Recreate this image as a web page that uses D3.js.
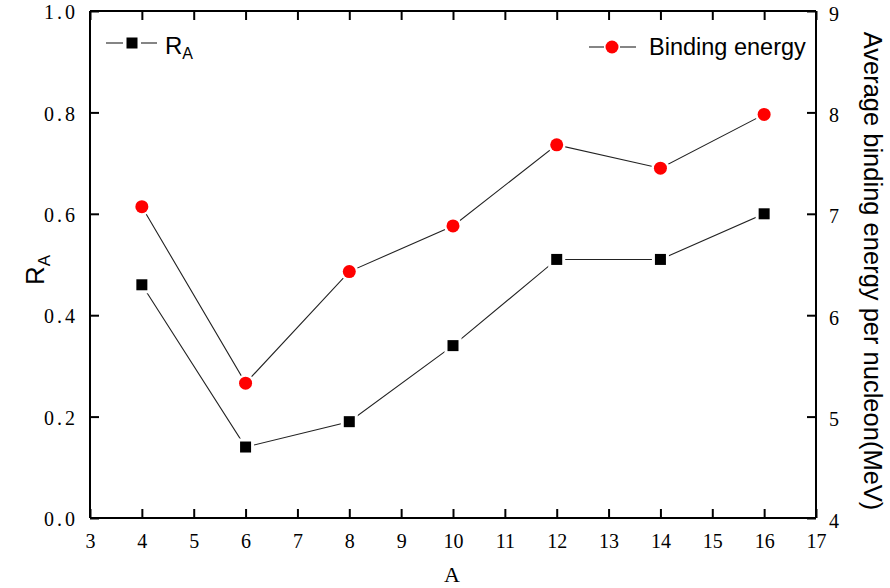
<!DOCTYPE html>
<html><head><meta charset="utf-8">
<script src="https://cdn.jsdelivr.net/npm/d3@7"></script>
<style>body{margin:0;background:#fff}svg{display:block}</style>
</head><body>
<script>
const massNumbers = [4, 6, 8, 10, 12, 14, 16];
const ratioRA = [0.46, 0.14, 0.19, 0.34, 0.51, 0.51, 0.60];
const bindingEnergy = [7.07, 5.33, 6.43, 6.88, 7.68, 7.45, 7.98];
const xTicks = d3.range(3, 18);
const leftTicks = [0, 0.2, 0.4, 0.6, 0.8, 1.0];
const rightTicks = [4, 5, 6, 7, 8, 9];

const W = 890, H = 588;
const L = 90, R = 816, T = 11, B = 518;
const svg = d3.select("body").append("svg").attr("width", W).attr("height", H);

const x = d3.scaleLinear().domain([3, 17]).range([L, R]);
const yL = d3.scaleLinear().domain([0, 1]).range([B, T]);
const yR = d3.scaleLinear().domain([4, 9]).range([B, T]);

const serif = "'Liberation Serif', 'DejaVu Serif', serif";
const sans = "'Liberation Sans', Arial, sans-serif";

const tl = 9;
const axB = svg.append("g").attr("transform", `translate(0,${B})`)
  .call(d3.axisBottom(x).tickValues(xTicks).tickSize(-tl).tickPadding(tl + 9).tickFormat(d3.format("d")));
const axT = svg.append("g").attr("transform", `translate(0,${T})`)
  .call(d3.axisTop(x).tickValues(xTicks).tickSize(-tl).tickFormat(""));
const axL = svg.append("g").attr("transform", `translate(${L},0)`)
  .call(d3.axisLeft(yL).tickValues(leftTicks).tickSize(-tl).tickPadding(tl + 3).tickFormat(d3.format(".1f")));
const axR = svg.append("g").attr("transform", `translate(${R},0)`)
  .call(d3.axisRight(yR).tickValues(rightTicks).tickSize(-tl).tickPadding(tl + 4).tickFormat(d3.format("d")));

[axB, axT, axL, axR].forEach(g => {
  g.attr("font-family", serif);
  g.select(".domain").attr("stroke", "#000").attr("stroke-width", 2);
  g.selectAll(".tick line").attr("stroke", "#000").attr("stroke-width", 2);
  g.selectAll(".tick text").style("font-family", serif).attr("font-size", 20).attr("fill", "#000");
});
axL.selectAll(".tick text").attr("letter-spacing", 3).attr("dy", "0.38em");
axR.selectAll(".tick text").attr("dy", "0.45em");
axB.selectAll(".tick text").attr("dy", "0.6em");
axB.select(".domain").attr("d", `M${L},0H${R}`);
axT.select(".domain").attr("d", `M${L},0H${R}`);
axL.select(".domain").attr("d", `M0,${B}V${T}`);
axR.select(".domain").attr("d", `M0,${B}V${T}`);

const lineRA = d3.line().x((d, i) => x(massNumbers[i])).y(d => yL(d));
const lineBE = d3.line().x((d, i) => x(massNumbers[i])).y(d => yR(d));
svg.append("path").datum(ratioRA).attr("d", lineRA).attr("fill", "none").attr("stroke", "#222").attr("stroke-width", 1.1);
svg.append("path").datum(bindingEnergy).attr("d", lineBE).attr("fill", "none").attr("stroke", "#222").attr("stroke-width", 1.1);

const sq = 11, sqGap = 17, cr = 6.5, crGap = 9;
svg.selectAll(".gapSq").data(ratioRA).enter().append("rect")
  .attr("x", (d, i) => x(massNumbers[i]) - sqGap / 2).attr("y", d => yL(d) - sqGap / 2)
  .attr("width", sqGap).attr("height", sqGap).attr("fill", "#fff");
svg.selectAll(".gapCr").data(bindingEnergy).enter().append("circle")
  .attr("cx", (d, i) => x(massNumbers[i])).attr("cy", d => yR(d)).attr("r", crGap).attr("fill", "#fff");
svg.selectAll(".sq").data(ratioRA).enter().append("rect")
  .attr("x", (d, i) => x(massNumbers[i]) - sq / 2).attr("y", d => yL(d) - sq / 2)
  .attr("width", sq).attr("height", sq).attr("fill", "#000");
svg.selectAll(".cr").data(bindingEnergy).enter().append("circle")
  .attr("cx", (d, i) => x(massNumbers[i])).attr("cy", d => yR(d)).attr("r", cr).attr("fill", "#ff0000");

const lg1 = svg.append("g");
lg1.append("line").attr("x1", 106).attr("x2", 123).attr("y1", 43).attr("y2", 43).attr("stroke", "#222").attr("stroke-width", 1.1);
lg1.append("line").attr("x1", 141).attr("x2", 157).attr("y1", 43).attr("y2", 43).attr("stroke", "#222").attr("stroke-width", 1.1);
lg1.append("rect").attr("x", 132 - sq / 2).attr("y", 43 - sq / 2).attr("width", sq).attr("height", sq).attr("fill", "#000");
const t1 = lg1.append("text").attr("x", 165).attr("y", 54).attr("font-family", sans).attr("font-size", 24).attr("fill", "#000");
t1.append("tspan").text("R");
t1.append("tspan").attr("font-size", 16).attr("dy", 5).text("A");

const lg2 = svg.append("g");
lg2.append("line").attr("x1", 589).attr("x2", 604).attr("y1", 47).attr("y2", 47).attr("stroke", "#222").attr("stroke-width", 1.1);
lg2.append("line").attr("x1", 620).attr("x2", 636).attr("y1", 47).attr("y2", 47).attr("stroke", "#222").attr("stroke-width", 1.1);
lg2.append("circle").attr("cx", 612).attr("cy", 47).attr("r", cr).attr("fill", "#ff0000");
lg2.append("text").attr("x", 649).attr("y", 55).attr("font-family", sans).attr("font-size", 23.5).attr("fill", "#000").text("Binding energy");

svg.append("text").attr("x", 452).attr("y", 582).attr("text-anchor", "middle").attr("font-family", serif).attr("font-size", 22).attr("fill", "#000").text("A");
const yt = svg.append("text").attr("transform", "translate(44,270) rotate(-90)").attr("text-anchor", "middle").attr("font-family", sans).attr("font-size", 26).attr("fill", "#000");
yt.append("tspan").text("R");
yt.append("tspan").attr("font-size", 17).attr("dy", 6).text("A");
svg.append("text").attr("transform", "translate(864,271) rotate(90)").attr("text-anchor", "middle").attr("font-family", sans).attr("font-size", 25.5).attr("fill", "#000").text("Average binding energy per nucleon(MeV)");
</script>
</body></html>
